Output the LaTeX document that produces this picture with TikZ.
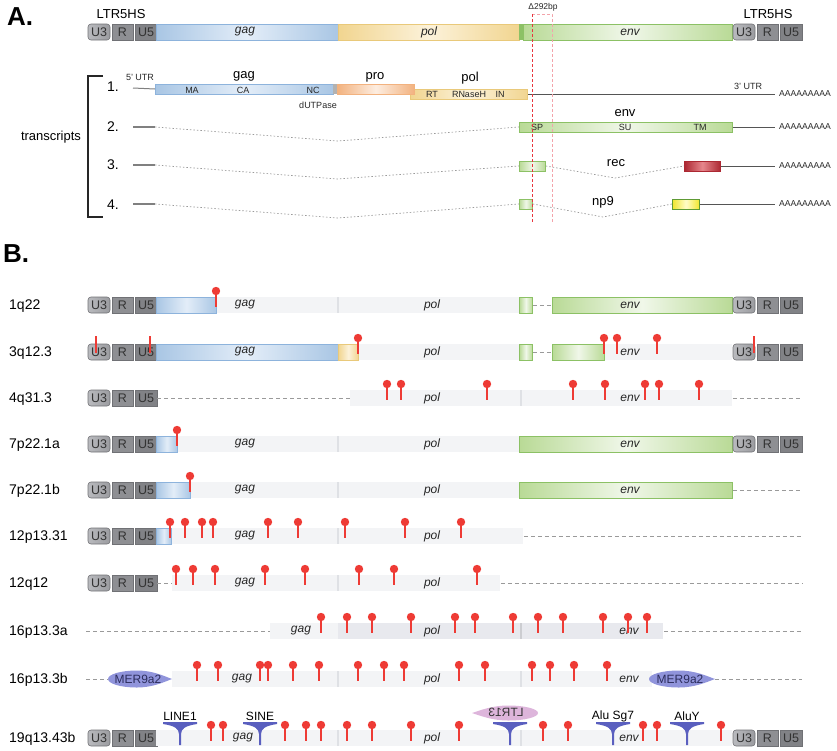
\documentclass[tikz,border=0pt]{standalone}
\usepackage{fontspec}
\setmainfont{Liberation Sans}
\usetikzlibrary{positioning,calc}

\definecolor{GagBlue}{HTML}{A9C6E4}
\definecolor{GagLight}{HTML}{E3EDF8}
\definecolor{GagEdge}{HTML}{8DB3DC}
\definecolor{PolYellow}{HTML}{F1D590}
\definecolor{PolLight}{HTML}{FCF2DA}
\definecolor{PolEdge}{HTML}{E9C97A}
\definecolor{EnvGreen}{HTML}{B9DA96}
\definecolor{EnvLight}{HTML}{F0F7E9}
\definecolor{EnvEdge}{HTML}{8CC165}
\definecolor{ProOrange}{HTML}{F2B27F}
\definecolor{ProLight}{HTML}{FDEDE0}
\definecolor{RecRed}{HTML}{AC2832}
\definecolor{RecLight}{HTML}{E6868C}
\definecolor{NpYellow}{HTML}{F0E62E}
\definecolor{NpLight}{HTML}{FFFCC8}
\definecolor{NpEdge}{HTML}{5E9A35}
\definecolor{LtrLight}{HTML}{B9BABE}
\definecolor{LtrMid}{HTML}{8E8F93}
\definecolor{LtrDark}{HTML}{818286}
\definecolor{LtrEdge}{HTML}{707175}
\definecolor{LtrText}{HTML}{333333}
\definecolor{BgGrey}{HTML}{F3F4F6}
\definecolor{BgDark}{HTML}{E8E9EE}
\definecolor{BgLine}{HTML}{DFE1E5}
\definecolor{PinRed}{HTML}{EE3B35}
\definecolor{DelRed}{HTML}{E8353E}
\definecolor{DelPink}{HTML}{F3A3AA}
\definecolor{RepBlue}{HTML}{5A5FBF}
\definecolor{MerBlue}{HTML}{9094DB}
\definecolor{MerText}{HTML}{2C2D5C}
\definecolor{LtrPink}{HTML}{DDB5DB}
\definecolor{DashGrey}{HTML}{9A9A9A}
\definecolor{LineGrey}{HTML}{555555}

\tikzset{
    % Base bar style
    basebar/.style={
        minimum height=16,
        inner sep=0pt,
        line width=0.8pt,
        anchor=west
    },
    % Gene segments
    gagbar/.style={basebar, draw=GagEdge, left color=GagBlue, right color=GagBlue, middle color=GagLight},
    polbar/.style={basebar, draw=PolEdge, left color=PolYellow, right color=PolYellow, middle color=PolLight},
    probar/.style={basebar, draw=ProOrange, left color=ProOrange, right color=ProOrange, middle color=ProLight},
    envbar/.style={basebar, draw=EnvEdge, left color=EnvGreen, right color=EnvGreen, middle color=EnvLight},
    recbar/.style={basebar, draw=RecRed, left color=RecRed, right color=RecRed, middle color=RecLight},
    npbar/.style={basebar, draw=NpEdge, left color=NpYellow, right color=NpYellow, middle color=NpLight},
    % Grey provirus background
    bgbar/.style={basebar, fill=BgGrey},
    bgdark/.style={basebar, fill=BgDark},
    % LTR boxes
    ltrbox/.style={
        draw=LtrEdge,
        line width=0.6pt,
        minimum height=16,
        inner sep=0pt,
        text=LtrText,
        font=\fontsize{12.5}{14}\selectfont
    },
    uthree/.style={ltrbox, minimum width=22, rounded corners=3pt, left color=LtrLight, right color=LtrMid!70!LtrLight},
    rbox/.style={ltrbox, minimum width=21, fill=LtrMid},
    ufive/.style={ltrbox, minimum width=22, fill=LtrDark},
    % Text styles
    panellabel/.style={font=\fontsize{26}{28}\selectfont\bfseries},
    rowlabel/.style={anchor=west, inner sep=0pt, font=\fontsize{14}{16}\selectfont},
    genelabel/.style={inner sep=0pt, font=\fontsize{12}{14}\selectfont\itshape, text=black!85},
    toplabel/.style={inner sep=0pt, font=\fontsize{13}{15}\selectfont},
    domainlabel/.style={inner sep=0pt, font=\fontsize{9}{10}\selectfont, text=black!85},
    polyA/.style={inner sep=0pt, font=\fontsize{8.6}{10}\selectfont, text=black!85},
    replabel/.style={inner sep=0pt, font=\fontsize{12}{14}\selectfont},
    % Lines
    dashline/.style={draw=DashGrey, line width=0.8pt, dash pattern=on 4pt off 3pt},
    spliceline/.style={draw=DashGrey, line width=0.7pt, dash pattern=on 1.5pt off 2pt},
    stubline/.style={draw=gray, line width=1.3pt},
    utrline/.style={draw=LineGrey, line width=1pt},
    bracketline/.style={draw=black!85, line width=1.5pt},
    deldash/.style={line width=0.8pt, dash pattern=on 3pt off 2pt},
    pinstem/.style={draw=PinRed, line width=1.1pt},
    bgdiv/.style={draw=BgLine, line width=1.2pt}
}

% LTR made of U3, R and U5
\newcommand{\ltrunit}[3]{%
    \node[uthree] (#1u3) at (#2+11,#3) {U3};
    \node[rbox] (#1r) at (#2+34.5,#3) {R};
    \node[ufive] (#1u5) at (#2+58,#3) {U5};
}
% Lollipop for a mutation
\newcommand{\redpin}[2]{%
    \draw[pinstem] (#1,#2-14) -- (#1,#2+2);
    \fill[PinRed] (#1,#2-14) circle (4.2pt);
}
% Inserted repeat element
\newcommand{\repfunnel}[2]{%
    \fill[RepBlue] (#1-17,#2-16) -- (#1+17,#2-16) -- (#1+17,#2-14)
        .. controls (#1+4,#2-12) and (#1+1.5,#2-9) .. (#1+1,#2-4) -- (#1+1,#2+7)
        -- (#1-1,#2+7) -- (#1-1,#2-4)
        .. controls (#1-1.5,#2-9) and (#1-4,#2-12) .. (#1-17,#2-14) -- cycle;
}
% Teardrop (third argument: signed half width)
\newcommand{\teardrop}[5]{%
    \fill[#5] ({#1+#3},{#2})
        .. controls ({#1+0.75*#3},{#2-0.35*#4}) and ({#1+0.4*#3},{#2-#4}) .. ({#1-0.1*#3},{#2-#4})
        .. controls ({#1-0.6*#3},{#2-#4}) and ({#1-#3},{#2-0.55*#4}) .. ({#1-#3},{#2})
        .. controls ({#1-#3},{#2+0.55*#4}) and ({#1-0.6*#3},{#2+#4}) .. ({#1-0.1*#3},{#2+#4})
        .. controls ({#1+0.4*#3},{#2+#4}) and ({#1+0.75*#3},{#2+0.35*#4}) .. ({#1+#3},{#2}) -- cycle;
}

\begin{document}
\begin{tikzpicture}[x=1pt,y=-1pt]
    \useasboundingbox (0,0) rectangle (837,750);

    % ---------- Panel A ----------
    \node[panellabel] (plA) at (20,17) {A.};
    \node[toplabel] (ltrl) at (121,14) {LTR5HS};
    \node[toplabel] (ltrr) at (768,14) {LTR5HS};

    % Provirus
    \ltrunit{al}{88}{32}
    \node[gagbar, minimum width=182] (agag) at (156,32) {};
    \node[polbar, minimum width=181] (apol) at (338,32) {};
    \node[basebar, fill=EnvEdge, minimum width=4] (astrip) at (519,32) {};
    \node[envbar, minimum width=209] (aenv) at (523,32) {};
    \ltrunit{ar}{733}{32}
    \node[genelabel] (agagl) at (245,32) {gag};
    \node[genelabel] (apoll) at (429,32) {pol};
    \node[genelabel] (aenvl) at (630,32) {env};

    % Deletion
    \node[domainlabel, font=\fontsize{8.5}{10}\selectfont] (dell) at (543,7) {Δ292bp};
    \coordinate (deltl) at (532,14);
    \coordinate (deltr) at (552,14);
    \coordinate (delbl) at (532,223);
    \coordinate (delbr) at (552,223);

    % Transcripts
    \draw[bracketline] (103,76) -- (88,76) -- (88,217) -- (103,217);
    \node[toplabel] (trl) at (51,137) {transcripts};
    \node[rowlabel] (t1n) at (107,87) {1.};
    \node[rowlabel] (t2n) at (107,127) {2.};
    \node[rowlabel] (t3n) at (107,165) {3.};
    \node[rowlabel] (t4n) at (107,205) {4.};

    % Transcript 1
    \coordinate (t1s) at (133,88);
    \coordinate (t1e) at (775,94);
    \node[polbar, minimum height=10, minimum width=117] (t1pol) at (410,94) {};
    \node[gagbar, minimum height=10, minimum width=178] (t1gag) at (155,89) {};
    \node[basebar, minimum height=10, minimum width=4, fill=gray!60] (t1dut) at (333,89) {};
    \node[probar, minimum height=10, minimum width=77] (t1pro) at (337,89) {};
    \draw[utrline, draw=gray] (t1s) -- (t1gag.west);
    \draw[utrline] (t1pol.east) -- (t1e);
    \node[domainlabel] (utr5) at (140,77) {5' UTR};
    \node[toplabel] (t1gagl) at (244,76) {gag};
    \node[domainlabel] (ma) at (192,90) {MA};
    \node[domainlabel] (ca) at (243,90) {CA};
    \node[domainlabel] (nc) at (313,90) {NC};
    \node[domainlabel] (dut) at (318,105) {dUTPase};
    \node[toplabel] (t1prol) at (375,77) {pro};
    \node[toplabel] (t1poll) at (470,78) {pol};
    \node[domainlabel] (rt) at (432,94) {RT};
    \node[domainlabel] (rnh) at (469,94) {RNaseH};
    \node[domainlabel] (in) at (500,94) {IN};
    \node[domainlabel] (utr3) at (748,86) {3' UTR};
    \node[polyA] (t1a) at (805,94) {AAAAAAAAA};

    % Transcript 2
    \coordinate (t2s) at (133,127);
    \coordinate (t2g) at (155,127);
    \coordinate (t2d) at (338,141);
    \coordinate (t2e) at (775,127);
    \node[envbar, minimum height=10, minimum width=213] (t2env) at (519,127) {};
    \draw[stubline] (t2s) -- (t2g);
    \draw[spliceline] (t2g) -- (t2d) -- (t2env.west);
    \draw[utrline] (t2env.east) -- (t2e);
    \node[toplabel] (t2envl) at (625,113) {env};
    \node[domainlabel] (sp) at (537,127) {SP};
    \node[domainlabel] (su) at (625,127) {SU};
    \node[domainlabel] (tm) at (700,127) {TM};
    \node[polyA] (t2a) at (805,127) {AAAAAAAAA};

    % Transcript 3
    \coordinate (t3s) at (133,165);
    \coordinate (t3g) at (155,165);
    \coordinate (t3d) at (338,179);
    \coordinate (t3k) at (615,178);
    \coordinate (t3e) at (775,166);
    \node[envbar, minimum height=10, minimum width=26] (t3sp) at (519,166) {};
    \node[recbar, minimum height=10, minimum width=36] (t3rec) at (684,166) {};
    \draw[stubline] (t3s) -- (t3g);
    \draw[spliceline] (t3g) -- (t3d) -- (t3sp.west);
    \draw[spliceline] (t3sp.east) -- (t3k) -- (t3rec.west);
    \draw[utrline] (t3rec.east) -- (t3e);
    \node[toplabel] (t3recl) at (616,163) {rec};
    \node[polyA] (t3a) at (805,166) {AAAAAAAAA};

    % Transcript 4
    \coordinate (t4s) at (133,204);
    \coordinate (t4g) at (155,204);
    \coordinate (t4d) at (338,218);
    \coordinate (t4k) at (603,217);
    \coordinate (t4e) at (775,204);
    \node[envbar, minimum height=10, minimum width=13] (t4sp) at (519,204) {};
    \node[npbar, minimum height=10, minimum width=27] (t4np) at (672,204) {};
    \draw[stubline] (t4s) -- (t4g);
    \draw[spliceline] (t4g) -- (t4d) -- (t4sp.west);
    \draw[spliceline] (t4sp.east) -- (t4k) -- (t4np.west);
    \draw[utrline] (t4np.east) -- (t4e);
    \node[toplabel] (t4npl) at (603,202) {np9};
    \node[polyA] (t4a) at (805,204) {AAAAAAAAA};

    % Deletion box on top
    \draw[deldash, DelPink] (deltl) -- (deltr) -- (delbr);
    \draw[deldash, DelRed] (deltl) -- (delbl);

    % ---------- Panel B ----------
    \node[panellabel] (plB) at (16,254) {B.};

    % 1q22
    \node[rowlabel] (l1) at (9,306) {1q22};
    \ltrunit{b1l}{88}{305}
    \node[bgbar, minimum width=363] (b1bg) at (156,305) {};
    \node[gagbar, minimum width=60] (b1gag) at (156,305) {};
    \node[envbar, minimum width=13] (b1sp) at (519,305) {};
    \node[envbar, minimum width=180] (b1env) at (552,305) {};
    \draw[dashline] (b1sp.east) -- (b1env.west);
    \ltrunit{b1r}{733}{305}
    \draw[bgdiv] (338,297) -- (338,313);
    \node[genelabel] (b1g) at (245,305) {gag};
    \node[genelabel] (b1p) at (432,305) {pol};
    \node[genelabel] (b1e) at (630,305) {env};
    \redpin{216}{305}

    % 3q12.3
    \node[rowlabel] (l2) at (9,353) {3q12.3};
    \ltrunit{b2l}{88}{352}
    \node[bgbar, minimum width=363] (b2bg) at (156,352) {};
    \node[bgbar, minimum width=180] (b2bge) at (552,352) {};
    \node[gagbar, minimum width=182] (b2gag) at (156,352) {};
    \node[polbar, minimum width=20] (b2pro) at (338,352) {};
    \node[envbar, minimum width=13] (b2sp) at (519,352) {};
    \node[envbar, minimum width=52] (b2env) at (552,352) {};
    \draw[dashline] (b2sp.east) -- (b2env.west);
    \ltrunit{b2r}{733}{352}
    \node[genelabel] (b2g) at (245,352) {gag};
    \node[genelabel] (b2p) at (432,352) {pol};
    \node[genelabel] (b2e) at (630,352) {env};
    \draw[pinstem] (96,336) -- (96,353);
    \draw[pinstem] (150,336) -- (150,353);
    \draw[pinstem] (754,336) -- (754,353);
    \foreach \px in {358,604,617,657} {\redpin{\px}{352}}

    % 4q31.3
    \node[rowlabel] (l3) at (9,399) {4q31.3};
    \ltrunit{b3l}{88}{398}
    \node[bgbar, minimum width=382] (b3bg) at (350,398) {};
    \coordinate (b3end) at (802,398);
    \draw[dashline] (b3lu5.east) -- (b3bg.west);
    \draw[dashline] (b3bg.east) -- (b3end);
    \draw[bgdiv] (521,390) -- (521,406);
    \node[genelabel] (b3p) at (432,398) {pol};
    \node[genelabel] (b3e) at (630,398) {env};
    \foreach \px in {387,401,487,573,605,645,659,699} {\redpin{\px}{398}}

    % 7p22.1a
    \node[rowlabel] (l4) at (9,445) {7p22.1a};
    \ltrunit{b4l}{88}{444}
    \node[bgbar, minimum width=363] (b4bg) at (156,444) {};
    \node[gagbar, minimum width=21] (b4gag) at (156,444) {};
    \node[envbar, minimum width=213] (b4env) at (519,444) {};
    \ltrunit{b4r}{733}{444}
    \draw[bgdiv] (338,436) -- (338,452);
    \node[genelabel] (b4g) at (245,444) {gag};
    \node[genelabel] (b4p) at (432,444) {pol};
    \node[genelabel] (b4e) at (630,444) {env};
    \redpin{177}{444}

    % 7p22.1b
    \node[rowlabel] (l5) at (9,491) {7p22.1b};
    \ltrunit{b5l}{88}{490}
    \node[bgbar, minimum width=363] (b5bg) at (156,490) {};
    \node[gagbar, minimum width=34] (b5gag) at (156,490) {};
    \node[envbar, minimum width=213] (b5env) at (519,490) {};
    \coordinate (b5end) at (802,490);
    \draw[dashline] (b5env.east) -- (b5end);
    \draw[bgdiv] (338,482) -- (338,498);
    \node[genelabel] (b5g) at (245,490) {gag};
    \node[genelabel] (b5p) at (432,490) {pol};
    \node[genelabel] (b5e) at (630,490) {env};
    \redpin{190}{490}

    % 12p13.31
    \node[rowlabel] (l6) at (9,537) {12p13.31};
    \ltrunit{b6l}{88}{536}
    \node[bgbar, minimum width=367] (b6bg) at (156,536) {};
    \node[gagbar, minimum width=15] (b6gag) at (156,536) {};
    \coordinate (b6end) at (802,536);
    \draw[dashline] (b6bg.east) -- (b6end);
    \draw[bgdiv] (338,528) -- (338,544);
    \node[genelabel] (b6g) at (245,536) {gag};
    \node[genelabel] (b6p) at (432,536) {pol};
    \foreach \px in {170,185,202,213,268,298,345,405,461} {\redpin{\px}{536}}

    % 12q12
    \node[rowlabel] (l7) at (9,584) {12q12};
    \ltrunit{b7l}{88}{583}
    \node[bgbar, minimum width=328] (b7bg) at (172,583) {};
    \coordinate (b7end) at (802,583);
    \draw[dashline] (b7lu5.east) -- (b7bg.west);
    \draw[dashline] (b7bg.east) -- (b7end);
    \draw[bgdiv] (338,575) -- (338,591);
    \node[genelabel] (b7g) at (245,583) {gag};
    \node[genelabel] (b7p) at (432,583) {pol};
    \foreach \px in {176,193,215,265,305,359,394,477} {\redpin{\px}{583}}

    % 16p13.3a
    \node[rowlabel] (l8) at (9,632) {16p13.3a};
    \coordinate (b8start) at (86,631);
    \coordinate (b8end) at (802,631);
    \node[bgbar, minimum width=68] (b8bg) at (270,631) {};
    \node[bgdark, minimum width=325] (b8bgd) at (338,631) {};
    \draw[dashline] (b8start) -- (b8bg.west);
    \draw[dashline] (b8bgd.east) -- (b8end);
    \draw[bgdiv, draw=BgLine!80!gray] (521,623) -- (521,639);
    \node[genelabel] (b8g) at (301,631) {gag};
    \node[genelabel] (b8p) at (432,631) {pol};
    \node[genelabel] (b8e) at (629,631) {env};
    \foreach \px in {321,347,372,411,455,475,513,538,563,603,628,647} {\redpin{\px}{631}}

    % 16p13.3b
    \node[rowlabel] (l9) at (9,680) {16p13.3b};
    \coordinate (b9start) at (86,679);
    \coordinate (b9end) at (802,679);
    \node[bgbar, minimum width=480] (b9bg) at (172,679) {};
    \teardrop{140}{679}{32}{8.5}{MerBlue}
    \teardrop{682}{679}{33}{8.5}{MerBlue}
    \node[replabel, text=MerText] (mer1) at (138,679) {MER9a2};
    \node[replabel, text=MerText] (mer2) at (680,679) {MER9a2};
    \coordinate (mer1w) at (108,679);
    \coordinate (mer2e) at (715,679);
    \draw[dashline] (b9start) -- (mer1w);
    \draw[dashline] (mer2e) -- (b9end);
    \draw[bgdiv] (338,671) -- (338,687);
    \draw[bgdiv] (521,671) -- (521,687);
    \node[genelabel] (b9g) at (242,679) {gag};
    \node[genelabel] (b9p) at (432,679) {pol};
    \node[genelabel] (b9e) at (629,679) {env};
    \foreach \px in {197,218,260,268,293,319,358,384,404,459,485,532,550,574,607} {\redpin{\px}{679}}

    % 19q13.43b
    \node[rowlabel] (l10) at (9,739) {19q13.43b};
    \ltrunit{b10l}{88}{738}
    \node[bgbar, minimum width=576] (b10bg) at (156,738) {};
    \ltrunit{b10r}{733}{738}
    \draw[bgdiv] (338,730) -- (338,746);
    \draw[bgdiv] (521,730) -- (521,746);
    \node[genelabel] (b10g) at (243,738) {gag};
    \node[genelabel] (b10p) at (432,738) {pol};
    \node[genelabel] (b10e) at (629,738) {env};
    \teardrop{505}{713}{-33}{7.5}{LtrPink}
    \node[replabel, text=black!80] (ltr13) at (506,712) {\reflectbox{LTR13}};
    \foreach \px in {180,260,510,613,687} {\repfunnel{\px}{738}}
    \node[replabel] (line1) at (180,716) {LINE1};
    \node[replabel] (sine) at (260,716) {SINE};
    \node[replabel] (alusg) at (613,716) {Alu Sg7};
    \node[replabel] (aluy) at (687,716) {AluY};
    \foreach \px in {211,223,285,306,321,347,372,411,459,543,568,643,657,721} {\redpin{\px}{739}}
\end{tikzpicture}
\end{document}
